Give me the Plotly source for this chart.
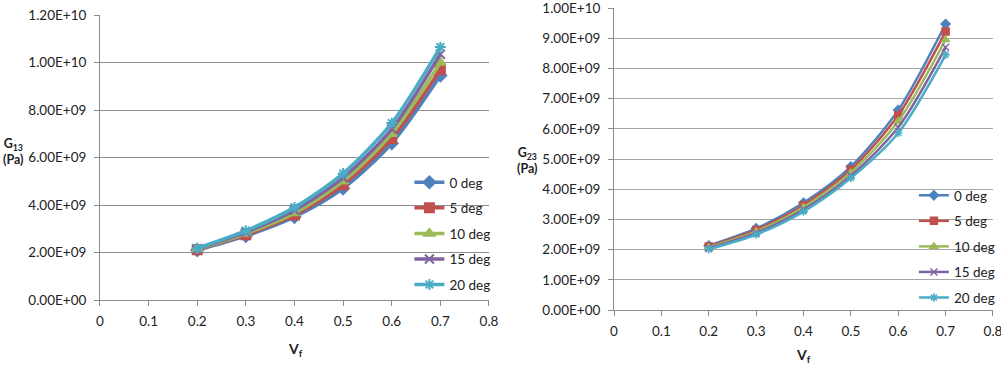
import plotly.graph_objects as go

vf = [0.2, 0.3, 0.4, 0.5, 0.6, 0.7]
series_names = ["0 deg", "5 deg", "10 deg", "15 deg", "20 deg"]

g13_0 = [2.10e9, 2.70e9, 3.50e9, 4.70e9, 6.60e9, 9.45e9]
g13_5 = [2.12e9, 2.75e9, 3.58e9, 4.85e9, 6.80e9, 9.70e9]
g13_10 = [2.14e9, 2.80e9, 3.66e9, 5.00e9, 7.00e9, 10.00e9]
g13_15 = [2.16e9, 2.86e9, 3.78e9, 5.15e9, 7.20e9, 10.35e9]
g13_20 = [2.18e9, 2.92e9, 3.90e9, 5.33e9, 7.45e9, 10.65e9]

g23_0 = [2.13e9, 2.70e9, 3.55e9, 4.75e9, 6.62e9, 9.47e9]
g23_5 = [2.10e9, 2.65e9, 3.47e9, 4.65e9, 6.45e9, 9.22e9]
g23_10 = [2.07e9, 2.60e9, 3.40e9, 4.55e9, 6.25e9, 8.95e9]
g23_15 = [2.04e9, 2.55e9, 3.33e9, 4.45e9, 6.05e9, 8.70e9]
g23_20 = [2.01e9, 2.50e9, 3.26e9, 4.37e9, 5.86e9, 8.45e9]

x_ticks = [0, 0.1, 0.2, 0.3, 0.4, 0.5, 0.6, 0.7, 0.8]
x_ticktext = ["0", "0.1", "0.2", "0.3", "0.4", "0.5", "0.6", "0.7", "0.8"]
y1_ticks = [0, 2e9, 4e9, 6e9, 8e9, 1e10, 1.2e10]
y1_ticktext = ["0.00E+00", "2.00E+09", "4.00E+09", "6.00E+09", "8.00E+09", "1.00E+10", "1.20E+10"]
y2_ticks = [0, 1e9, 2e9, 3e9, 4e9, 5e9, 6e9, 7e9, 8e9, 9e9, 1e10]
y2_ticktext = ["0.00E+00", "1.00E+09", "2.00E+09", "3.00E+09", "4.00E+09", "5.00E+09",
               "6.00E+09", "7.00E+09", "8.00E+09", "9.00E+09", "1.00E+10"]

colors = ["#4F81BD", "#C0504D", "#9BBB59", "#8064A2", "#4BACC6"]
symbols = ["diamond", "square", "triangle-up", "x-thin-open", "asterisk-open"]

FONT = "Lato, 'Open Sans', sans-serif"
TXT = "#222222"
GRID = "#8C8C8C"

fig = go.Figure()

left = [g13_0, g13_5, g13_10, g13_15, g13_20]
right = [g23_0, g23_5, g23_10, g23_15, g23_20]

for i, (name, ys) in enumerate(zip(series_names, left)):
    fig.add_trace(go.Scatter(
        x=vf, y=ys, name=name, mode="lines+markers",
        line=dict(color=colors[i], width=3.5, shape="spline", smoothing=0.8),
        marker=dict(symbol=symbols[i], size=9, color=colors[i],
                    line=dict(color=colors[i], width=2)),
        xaxis="x", yaxis="y", legend="legend", legendgroup="L" + name,
    ))

for i, (name, ys) in enumerate(zip(series_names, right)):
    fig.add_trace(go.Scatter(
        x=vf, y=ys, name=name, mode="lines+markers",
        line=dict(color=colors[i], width=2.5, shape="spline", smoothing=0.8),
        marker=dict(symbol=symbols[i], size=7, color=colors[i],
                    line=dict(color=colors[i], width=1.5)),
        xaxis="x2", yaxis="y2", legend="legend2", legendgroup="R" + name,
    ))

axis_common = dict(
    showgrid=False, zeroline=False, showline=True, linecolor=GRID, linewidth=1,
    ticks="outside", ticklen=5, tickcolor=GRID, automargin=False,
    ticklabeloverflow="allow",
    tickfont=dict(family=FONT, size=13.5, color=TXT),
)

fig.update_layout(
    width=1001, height=366,
    margin=dict(l=0, r=0, t=0, b=0, autoexpand=False),
    paper_bgcolor="white", plot_bgcolor="white",
    font=dict(family=FONT, size=13, color=TXT),
    xaxis=dict(domain=[0.0999, 0.4885], range=[0, 0.8], tickvals=x_ticks,
               ticktext=x_ticktext, anchor="y", ticklabelstandoff=4, **axis_common),
    yaxis=dict(domain=[0.1803, 0.959], range=[0, 1.2e10], tickvals=y1_ticks,
               ticktext=y1_ticktext, anchor="x", ticklabelstandoff=5,
               **{**axis_common, "showgrid": True, "gridcolor": GRID, "gridwidth": 1}),
    xaxis2=dict(domain=[0.6134, 0.992], range=[0, 0.8], tickvals=x_ticks,
                ticktext=x_ticktext, anchor="y2", ticklabelstandoff=4, **axis_common),
    yaxis2=dict(domain=[0.153, 0.978], range=[0, 1e10], tickvals=y2_ticks,
                ticktext=y2_ticktext, anchor="x2", ticklabelstandoff=5,
                **{**axis_common, "showgrid": True, "gridcolor": "#A6A6A6", "gridwidth": 1}),
    legend=dict(x=0.409, y=1 - 167 / 366, xanchor="left", yanchor="top",
                bgcolor="rgba(0,0,0,0)", font=dict(family=FONT, size=13.5, color=TXT),
                tracegroupgap=5, itemwidth=30),
    legend2=dict(x=0.913, y=1 - 180 / 366, xanchor="left", yanchor="top",
                 bgcolor="rgba(0,0,0,0)", font=dict(family=FONT, size=13.5, color=TXT),
                 tracegroupgap=5, itemwidth=30),
    annotations=[
        dict(text="<b>G<sub>13</sub></b><br><b>(Pa)</b>", x=13 / 1001, y=1 - 151 / 366,
             xref="paper", yref="paper", showarrow=False, align="center",
             xanchor="center", yanchor="middle",
             font=dict(family=FONT, size=12.5, color=TXT)),
        dict(text="<b>V<sub>f</sub></b>", x=295 / 1001, y=1 - 349 / 366,
             xref="paper", yref="paper", showarrow=False,
             xanchor="center", yanchor="middle",
             font=dict(family=FONT, size=14, color=TXT)),
        dict(text="<b>G<sub>23</sub></b><br><b>(Pa)</b>", x=527 / 1001, y=1 - 161 / 366,
             xref="paper", yref="paper", showarrow=False, align="center",
             xanchor="center", yanchor="middle",
             font=dict(family=FONT, size=12.5, color=TXT)),
        dict(text="<b>V<sub>f</sub></b>", x=803 / 1001, y=1 - 355 / 366,
             xref="paper", yref="paper", showarrow=False,
             xanchor="center", yanchor="middle",
             font=dict(family=FONT, size=14, color=TXT)),
    ],
)

fig.write_html("out.html", config={"displayModeBar": False},
               post_script="document.body.style.margin='0';document.body.style.overflow='hidden';")
